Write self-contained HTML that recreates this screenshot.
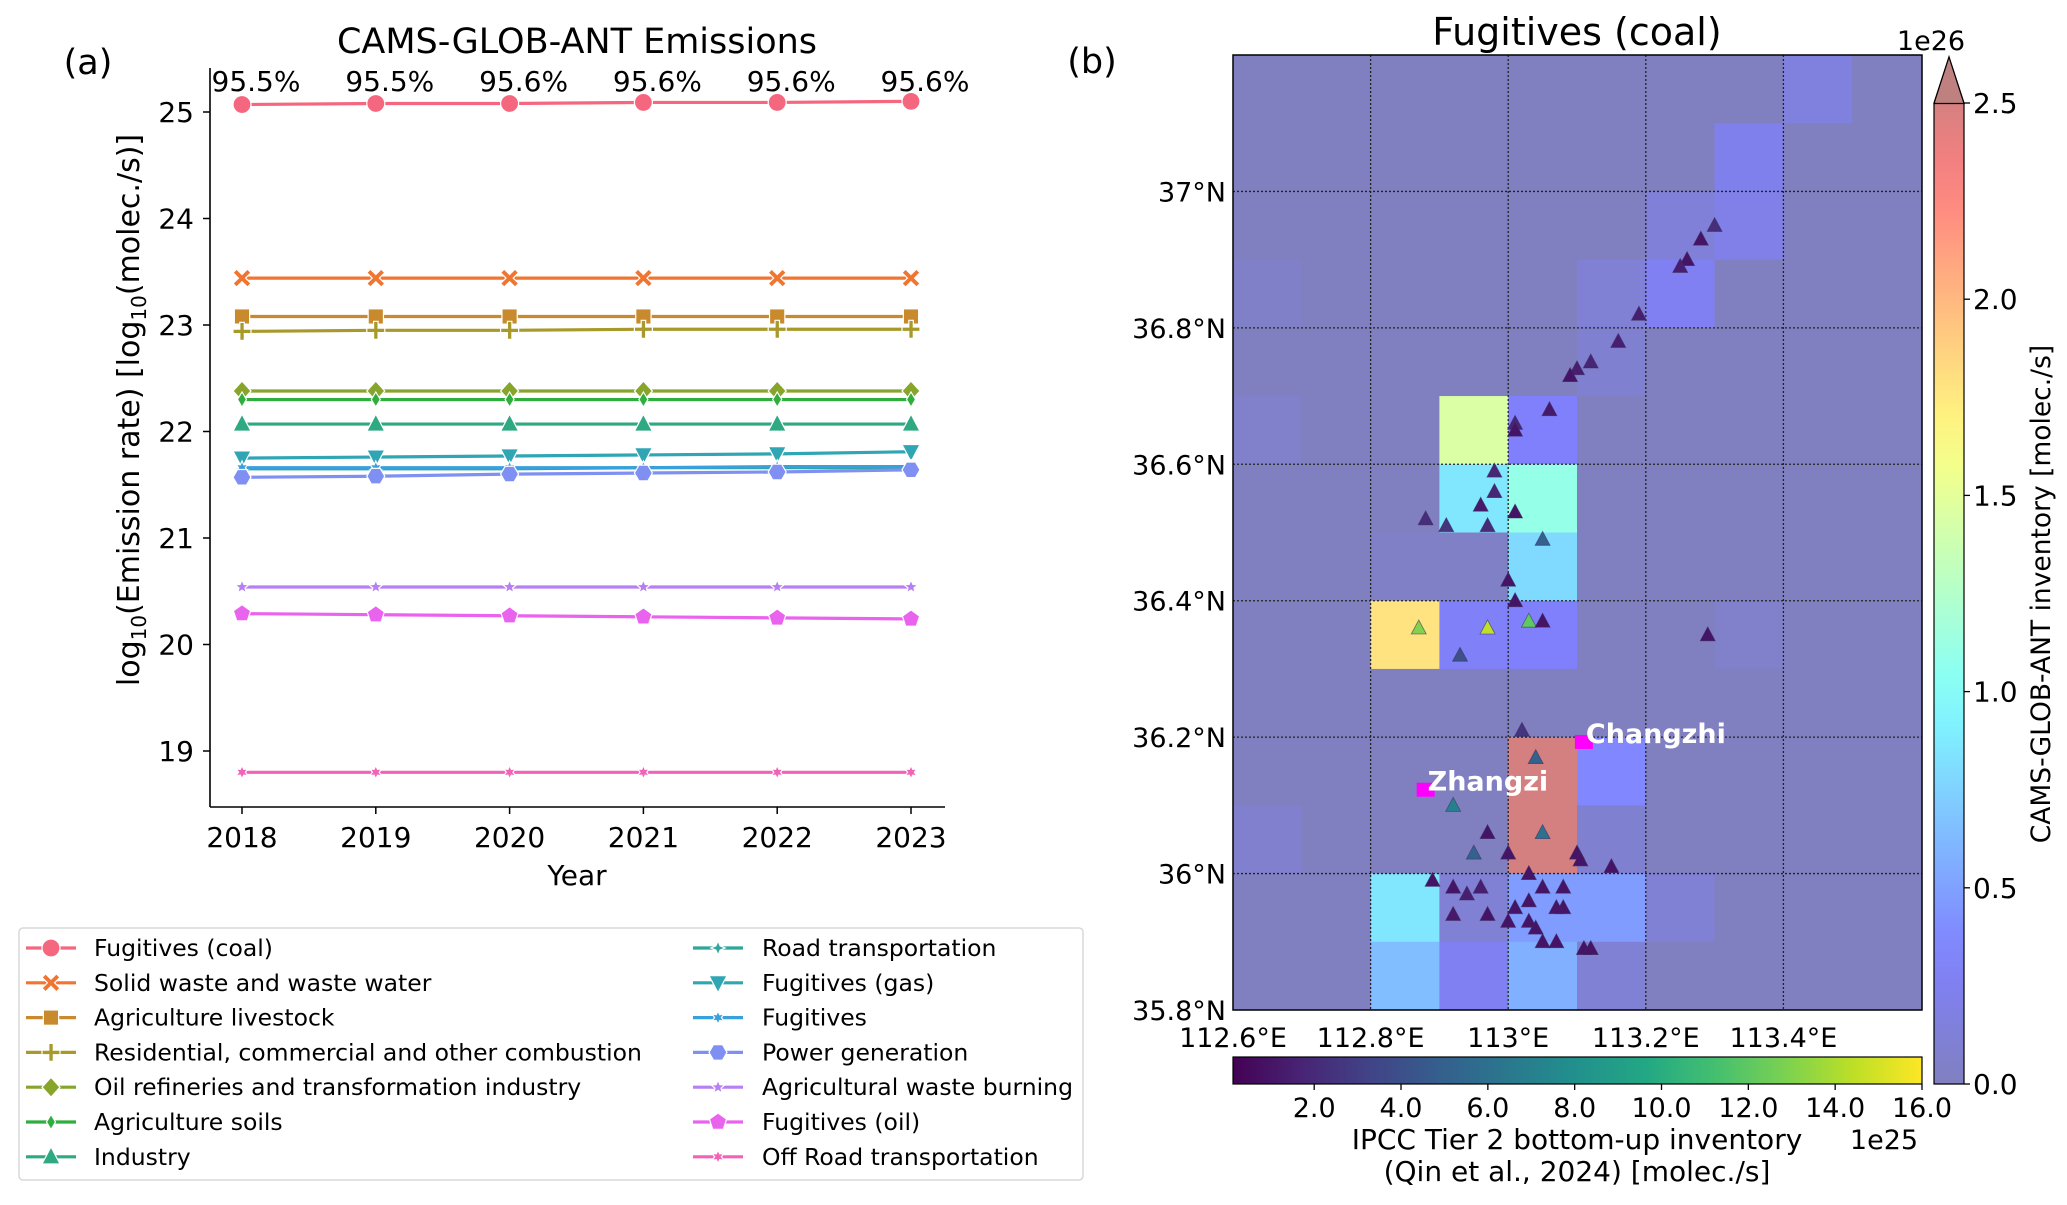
<!DOCTYPE html>
<html><head><meta charset="utf-8"><style>
html,body{margin:0;padding:0;background:#fff}
svg{display:block;font-family:"DejaVu Sans","Liberation Sans",sans-serif}
</style></head><body>
<svg id="fig" width="2067" height="1205" viewBox="0 0 2067 1205">
<defs>
<linearGradient id="jetgrad" x1="0" y1="1" x2="0" y2="0"></linearGradient>
<linearGradient id="virgrad" x1="0" y1="0" x2="1" y2="0"></linearGradient>
<clipPath id="mapclip"><rect x="1233" y="55" width="689" height="955"/></clipPath>
</defs>
<g id="left"></g>
<g id="right"></g>
</svg>
<script>
// ---------- Left chart data ----------
const years = [2018, 2019, 2020, 2021, 2022, 2023];
const pctLabels = ["95.5%", "95.5%", "95.6%", "95.6%", "95.6%", "95.6%"];
const yTicks = [19, 20, 21, 22, 23, 24, 25];
const seriesNames = ["Fugitives (coal)","Solid waste and waste water","Agriculture livestock","Residential, commercial and other combustion","Oil refineries and transformation industry","Agriculture soils","Industry","Road transportation","Fugitives (gas)","Fugitives","Power generation","Agricultural waste burning","Fugitives (oil)","Off Road transportation"];
const seriesColors = ["#f5677e","#f07530","#c88a2c","#a89a2a","#86a52a","#2fae3d","#2ea982","#2ea79a","#30a6b4","#38a0dc","#7f90f2","#b67ff3","#ea63ee","#f263b8"];
const seriesMarkers = ["circle","X","square","plus","diamond","thindiamond","triup","xsmall","tridown","star6","hexagon","star","pentagon","star6"];
const sCoal = [25.07, 25.08, 25.08, 25.09, 25.09, 25.10];
const sWaste = [23.44, 23.44, 23.44, 23.44, 23.44, 23.44];
const sLivestock = [23.08, 23.08, 23.08, 23.08, 23.08, 23.08];
const sResidential = [22.94, 22.95, 22.95, 22.96, 22.96, 22.96];
const sOilRef = [22.38, 22.38, 22.38, 22.38, 22.38, 22.38];
const sSoils = [22.30, 22.30, 22.30, 22.30, 22.30, 22.30];
const sIndustry = [22.07, 22.07, 22.07, 22.07, 22.07, 22.07];
const sRoad = [21.65, 21.65, 21.65, 21.66, 21.66, 21.66];
const sGas = [21.75, 21.76, 21.77, 21.78, 21.79, 21.81];
const sFug = [21.66, 21.66, 21.66, 21.66, 21.67, 21.67];
const sPower = [21.57, 21.58, 21.60, 21.61, 21.62, 21.64];
const sAgWaste = [20.54, 20.54, 20.54, 20.54, 20.54, 20.54];
const sOil = [20.29, 20.28, 20.27, 20.26, 20.25, 20.24];
const sOffRoad = [18.80, 18.80, 18.80, 18.80, 18.80, 18.80];
const allSeries = [sCoal,sWaste,sLivestock,sResidential,sOilRef,sSoils,sIndustry,sRoad,sGas,sFug,sPower,sAgWaste,sOil,sOffRoad];

// ---------- Map data ----------
const lonTicks = [112.6, 112.8, 113.0, 113.2, 113.4];
const latTicks = [35.8, 36.0, 36.2, 36.4, 36.6, 36.8, 37.0];
const cbTicksRight = [0.0, 0.5, 1.0, 1.5, 2.0, 2.5];
const cbTicksBottom = [2, 4, 6, 8, 10, 12, 14, 16];
const cellValues = [
 [.01,.01,.01,.01,.01,.01,.01,.01,.15,.01],
 [.01,.01,.01,.01,.01,.01,.01,.22,.01,.01],
 [.01,.01,.01,.01,.01,.01,.12,.20,.01,.01],
 [.05,.01,.01,.01,.01,.10,.25,.01,.01,.01],
 [.01,.01,.01,.01,.01,.08,.01,.01,.01,.01],
 [.06,.01,.01,1.38,.30,.01,.01,.01,.01,.01],
 [.01,.01,.01,.82,1.05,.01,.01,.01,.01,.01],
 [.01,.01,.04,.04,.75,.01,.01,.01,.01,.01],
 [.01,.01,1.70,.28,.30,.01,.01,.06,.01,.01],
 [.01,.01,.01,.01,.01,.01,.01,.01,.01,.01],
 [.01,.01,.01,.01,2.40,.35,.01,.01,.01,.01],
 [.07,.01,.01,.01,2.40,.08,.01,.01,.01,.01],
 [.01,.01,.82,.10,.45,.45,.10,.01,.01,.01],
 [.01,.01,.62,.25,.55,.10,.01,.01,.01,.01]
];
const siteLon = [113.30,113.28,113.26,113.25,113.19,113.16,113.12,113.10,113.09,113.06,113.01,113.01,112.98,112.98,112.96,113.01,112.88,112.91,112.97,113.05,113.00,113.01,112.87,112.97,113.03,113.05,113.29,112.93,113.02,113.04,112.92,112.97,113.05,112.95,113.00,113.10,113.15,112.89,113.03,112.92,112.96,113.05,113.08,112.94,113.03,113.08,113.07,113.01,112.92,112.97,113.00,113.03,113.04,113.05,113.07,113.11,113.12,113.105];
const siteLat = [36.95,36.93,36.90,36.89,36.82,36.78,36.75,36.74,36.73,36.68,36.66,36.65,36.59,36.56,36.54,36.53,36.52,36.51,36.51,36.49,36.43,36.40,36.36,36.36,36.37,36.37,36.35,36.32,36.21,36.17,36.10,36.06,36.06,36.03,36.03,36.03,36.01,35.99,36.00,35.98,35.98,35.98,35.98,35.97,35.96,35.95,35.95,35.95,35.94,35.94,35.93,35.93,35.92,35.90,35.90,35.89,35.89,36.02];
const siteVal = [2.2,1.0,1.0,1.5,1.5,1.5,1.8,1.5,1.0,1.2,1.8,1.0,1.8,1.8,1.2,1.0,2.2,2.5,2.0,5.0,1.0,1.0,13.0,14.5,12.0,1.0,1.0,4.0,2.5,5.0,7.0,1.0,6.0,5.0,1.0,1.0,1.0,1.0,1.0,1.0,1.5,1.0,1.0,1.5,1.0,1.0,1.0,1.0,1.2,1.0,1.0,1.0,1.0,1.0,1.0,1.0,1.0,1.0];
const cityNames = ["Changzhi", "Zhangzi"];
const cityLon = [113.11, 112.88];
const cityLat = [36.19, 36.12];

const NS = "http://www.w3.org/2000/svg";
function mk(parent, tag, attrs, text) {
  const e = document.createElementNS(NS, tag);
  for (const k in attrs) e.setAttribute(k, attrs[k]);
  if (text !== undefined) e.textContent = text;
  parent.appendChild(e);
  return e;
}
const L = document.getElementById("left");
const R = document.getElementById("right");

const xS = yr => 242 + (yr - 2018) * 133.8;
const yS = v => 112 + (25 - v) * 106.5;

function marker(g, type, cx, cy, color, s) {
  let e;
  const common = {fill: color, stroke: "#fff", "stroke-width": 1.2};
  const poly = pts => mk(g, "polygon", Object.assign({points: pts.map(p => (cx + p[0] * s).toFixed(1) + "," + (cy + p[1] * s).toFixed(1)).join(" ")}, common));
  const star = (n, ro, ri) => { const pts = []; for (let i = 0; i < 2 * n; i++) { const a = -Math.PI / 2 + i * Math.PI / n; const r = i % 2 ? ri : ro; pts.push([r * Math.cos(a), r * Math.sin(a)]); } return poly(pts); };
  switch (type) {
    case "circle": e = mk(g, "circle", Object.assign({cx, cy, r: s}, common)); break;
    case "square": e = mk(g, "rect", Object.assign({x: cx - s * 0.85, y: cy - s * 0.85, width: s * 1.7, height: s * 1.7}, common)); break;
    case "X": e = poly([[-1,-.6],[-.6,-1],[0,-.4],[.6,-1],[1,-.6],[.4,0],[1,.6],[.6,1],[0,.4],[-.6,1],[-1,.6],[-.4,0]]); break;
    case "plus": e = poly([[-.25,-1],[.25,-1],[.25,-.25],[1,-.25],[1,.25],[.25,.25],[.25,1],[-.25,1],[-.25,.25],[-1,.25],[-1,-.25],[-.25,-.25]]); break;
    case "diamond": e = poly([[0,-1.1],[1,0],[0,1.1],[-1,0]]); break;
    case "thindiamond": e = poly([[0,-1],[.6,0],[0,1],[-.6,0]]); break;
    case "triup": e = poly([[0,-1.1],[1,.8],[-1,.8]]); break;
    case "tridown": e = poly([[0,1.1],[1,-.8],[-1,-.8]]); break;
    case "xsmall": e = star(4, .95, .4); break;
    case "star6": e = star(6, .9, .45); break;
    case "hexagon": { const p = []; for (let i = 0; i < 6; i++) { const a = i * Math.PI / 3; p.push([Math.cos(a), Math.sin(a)]); } e = poly(p); break; }
    case "star": e = star(5, .95, .42); break;
    case "pentagon": { const p = []; for (let i = 0; i < 5; i++) { const a = -Math.PI / 2 + i * 2 * Math.PI / 5; p.push([Math.cos(a), Math.sin(a)]); } e = poly(p); break; }
  }
  return e;
}
function markerSize(type) { return ["xsmall","star6","star","thindiamond"].includes(type) ? 7.5 : 9; }

let e;
e = mk(L, "line", {x1: 210, y1: 68, x2: 210, y2: 807, stroke: "#000", "stroke-width": 1.6});


e = mk(L, "line", {x1: 210, y1: 807, x2: 945, y2: 807, stroke: "#000", "stroke-width": 1.6});


yTicks.forEach(t => {
  mk(L, "line", {x1: 203, y1: yS(t), x2: 210, y2: yS(t), stroke: "#000", "stroke-width": 1.5});
  const tx = mk(L, "text", {x: 194, y: yS(t) + 10, "text-anchor": "end", "font-size": 28}, String(t));
  
  
});
years.forEach((yr, i) => {
  mk(L, "line", {x1: xS(yr), y1: 807, x2: xS(yr), y2: 814, stroke: "#000", "stroke-width": 1.5});
  const tx = mk(L, "text", {x: xS(yr), y: 847, "text-anchor": "middle", "font-size": 28}, String(yr));
  
  
  const p = mk(L, "text", {x: xS(yr) + 14, y: 91, "text-anchor": "middle", "font-size": 28}, pctLabels[i]);
  
  
});
e = mk(L, "text", {x: 577, y: 53, "text-anchor": "middle", "font-size": 35}, "CAMS-GLOB-ANT Emissions");


e = mk(L, "text", {x: 88, y: 74, "text-anchor": "middle", "font-size": 35}, "(a)");


e = mk(L, "text", {x: 577, y: 885, "text-anchor": "middle", "font-size": 28}, "Year");


{
  const yl = mk(L, "text", {x: 0, y: 0, "text-anchor": "middle", "font-size": 30, transform: "translate(139,410) rotate(-90)"});
  
  
  const parts = [["log",0],["10",1],["(Emission rate) [log",0],["10",1],["(molec./s)]",0]];
  parts.forEach(p => { const ts = mk(yl, "tspan", p[1] ? {"font-size": 20, dy: 7} : {dy: 0}, p[0]); if (!p[1] && yl.childNodes.length > 1) ts.setAttribute("dy", -7); });
}
allSeries.forEach((vals, si) => {
  const g = mk(L, "g", {});
  
  
  const pts = vals.map((v, i) => xS(years[i]) + "," + yS(v)).join(" ");
  mk(g, "polyline", {points: pts, fill: "none", stroke: seriesColors[si], "stroke-width": 3.2});
  vals.forEach((v, i) => {
    const m = marker(g, seriesMarkers[si], xS(years[i]), yS(v), seriesColors[si], markerSize(seriesMarkers[si]));
    
    
  });
});
{
  const lg = mk(L, "g", {});
  
  
  mk(lg, "rect", {x: 19, y: 928, width: 1064, height: 252, rx: 4, fill: "#fff", stroke: "#d8d8d8", "stroke-width": 1.5});
  seriesNames.forEach((n, i) => {
    const col = i < 7 ? 0 : 1, row = i % 7;
    const mx = col ? 718 : 51, ty = 948 + row * 34.8;
    const ent = mk(lg, "g", {});
    
    
    mk(ent, "line", {x1: mx - 25, y1: ty, x2: mx + 25, y2: ty, stroke: seriesColors[i], "stroke-width": 3.2});
    marker(ent, seriesMarkers[i], mx, ty, seriesColors[i], markerSize(seriesMarkers[i]));
    mk(ent, "text", {x: col ? 762 : 94, y: ty + 8, "font-size": 23.5}, n);
  });
}

// ---------- Right map ----------
const X0 = 1233, PX = 688;
const lonX = lon => X0 + (lon - 112.6) / 1.0 * PX;
const latY = lat => 1010 - (lat - 35.8) / 1.4 * 955;
function jet(t) {
  t = Math.max(0, Math.min(1, t));
  const c = x => Math.max(0, Math.min(1, x));
  const r = c(1.5 - Math.abs(4 * t - 3)), g = c(1.5 - Math.abs(4 * t - 2)), b = c(1.5 - Math.abs(4 * t - 1));
  const bl = v => Math.round((v * 0.5 + 0.5) * 255);
  return "rgb(" + bl(r) + "," + bl(g) + "," + bl(b) + ")";
}
const virStops = [[0.267,0.005,0.329],[0.283,0.141,0.458],[0.254,0.265,0.530],[0.207,0.372,0.553],[0.164,0.471,0.558],[0.128,0.567,0.551],[0.135,0.659,0.518],[0.267,0.749,0.441],[0.478,0.821,0.318],[0.741,0.873,0.150],[0.993,0.906,0.144]];
function viridis(t) {
  t = Math.max(0, Math.min(1, t)) * (virStops.length - 1);
  const i = Math.min(Math.floor(t), virStops.length - 2), f = t - i;
  const a = virStops[i], b = virStops[i + 1];
  return "rgb(" + [0,1,2].map(k => Math.round((a[k] + (b[k] - a[k]) * f) * 255)).join(",") + ")";
}
const cellG = mk(R, "g", {"clip-path": "url(#mapclip)"});


cellValues.forEach((row, ri) => row.forEach((v, ci) => {
  const lon0 = 112.6 + ci * 0.1, lat1 = 37.2 - ri * 0.1;
  const x = lonX(lon0), y = latY(lat1);
  const c = mk(cellG, "rect", {x: x, y: y, width: lonX(lon0 + 0.1) - x + 0.5, height: latY(lat1 - 0.1) - y + 0.5, fill: jet(v / 2.5)});
  
  
}));
lonTicks.slice(1).forEach(l => mk(R, "line", {x1: lonX(l), y1: 55, x2: lonX(l), y2: 1010, stroke: "#222", "stroke-width": 1.3, "stroke-dasharray": "2,2"}));
latTicks.slice(1).forEach(l => mk(R, "line", {x1: 1233, y1: latY(l), x2: 1922, y2: latY(l), stroke: "#222", "stroke-width": 1.3, "stroke-dasharray": "2,2"}));
e = mk(R, "rect", {x: 1233, y: 55, width: 689, height: 955, fill: "none", stroke: "#000", "stroke-width": 1.5});


siteLon.forEach((lon, i) => {
  const x = lonX(lon), y = latY(siteLat[i]);
  const t = mk(R, "polygon", {points: `${x},${y - 8} ${x + 7.5},${y + 6} ${x - 7.5},${y + 6}`, fill: viridis((siteVal[i] - 0.13) / 15.87), stroke: "#3a2a5a", "stroke-width": 0.8, "stroke-opacity": 0.6});
  
  
});
cityNames.forEach((n, i) => {
  const x = lonX(cityLon[i]), y = latY(cityLat[i]);
  const s = mk(R, "rect", {x: x - 9, y: y - 9, width: 18, height: 14, fill: "#ff00ff"});
  
  
  const t = mk(R, "text", {x: x + 2, y: y - 1, "font-size": 27, "font-weight": "bold", fill: "#fff"}, n);
  
  
});
latTicks.forEach(l => {
  const t = mk(R, "text", {x: 1226, y: latY(l) + 10, "text-anchor": "end", "font-size": 27}, (Math.abs(l - Math.round(l)) < 1e-6 ? Math.round(l) : l.toFixed(1)) + "°N");
  
  
});
lonTicks.forEach(l => {
  const t = mk(R, "text", {x: lonX(l), y: 1047, "text-anchor": "middle", "font-size": 27}, (Math.abs(l - Math.round(l)) < 1e-6 ? Math.round(l) : l.toFixed(1)) + "°E");
  
  
});
e = mk(R, "text", {x: 1577, y: 45, "text-anchor": "middle", "font-size": 38}, "Fugitives (coal)");


e = mk(R, "text", {x: 1092, y: 73, "text-anchor": "middle", "font-size": 35}, "(b)");



const jg = document.getElementById("jetgrad");
for (let i = 0; i <= 20; i++) mk(jg, "stop", {offset: i / 20, "stop-color": jet(i / 20)});
const cbTop = 103, cbBot = 1084;
const cbY = v => cbBot - v / 2.5 * (cbBot - cbTop);
e = mk(R, "path", {d: `M1934,${cbBot} L1934,${cbTop} L1949,57 L1964,${cbTop} L1964,${cbBot} Z`, fill: "url(#jetgrad)", stroke: "#000", "stroke-width": 1.2});


mk(R, "path", {d: `M1934,${cbTop + 0.5} L1949,57 L1964,${cbTop + 0.5} Z`, fill: jet(1), stroke: "#000", "stroke-width": 1.2});
cbTicksRight.forEach(v => {
  mk(R, "line", {x1: 1964, y1: cbY(v), x2: 1970, y2: cbY(v), stroke: "#000", "stroke-width": 1.3});
  const t = mk(R, "text", {x: 1973, y: cbY(v) + 10, "font-size": 28}, v.toFixed(1));
  
  
});
e = mk(R, "text", {x: 1931, y: 50, "text-anchor": "middle", "font-size": 27}, "1e26");


e = mk(R, "text", {x: 0, y: 0, "text-anchor": "middle", "font-size": 26.5, transform: "translate(2050,594) rotate(-90)"}, "CAMS-GLOB-ANT inventory [molec./s]");



const vg = document.getElementById("virgrad");
for (let i = 0; i <= 20; i++) mk(vg, "stop", {offset: i / 20, "stop-color": viridis(i / 20)});
const bX = v => 1233 + (v - 0.13) / 15.87 * 689;
e = mk(R, "rect", {x: 1233, y: 1057, width: 689, height: 27, fill: "url(#virgrad)", stroke: "#000", "stroke-width": 1.2});


cbTicksBottom.forEach(v => {
  mk(R, "line", {x1: bX(v), y1: 1084, x2: bX(v), y2: 1090, stroke: "#000", "stroke-width": 1.3});
  const t = mk(R, "text", {x: bX(v), y: 1117, "text-anchor": "middle", "font-size": 27}, v.toFixed(1));
  
  
});
e = mk(R, "text", {x: 1884, y: 1149, "text-anchor": "middle", "font-size": 27}, "1e25");


e = mk(R, "text", {x: 1577, y: 1149, "text-anchor": "middle", "font-size": 28}, "IPCC Tier 2 bottom-up inventory");


e = mk(R, "text", {x: 1577, y: 1181, "text-anchor": "middle", "font-size": 28}, "(Qin et al., 2024) [molec./s]");


</script>
</body></html>
